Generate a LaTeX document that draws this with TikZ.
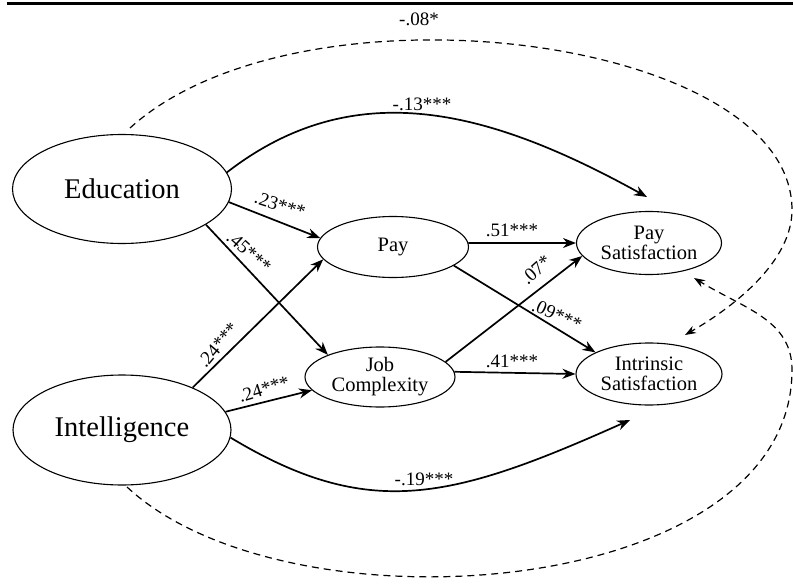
\documentclass[tikz,border=0pt]{standalone}
\usepackage{fontspec}
\setmainfont{Liberation Serif}
\usetikzlibrary{shapes.geometric,arrows.meta}
\begin{document}
\begin{tikzpicture}[x=1pt,y=-1pt,
  var/.style={draw,ellipse,line width=1.1pt,inner sep=0pt,align=center},
  bigvar/.style={var,font=\fontsize{28.5}{30}\selectfont},
  smallvar/.style={var,font=\fontsize{20.5}{20}\selectfont},
  effect/.style={line width=1.7pt,-{Stealth[length=13pt,width=10pt]}},
  corr/.style={line width=1.2pt,dash pattern=on 7pt off 5pt,-{Stealth[length=11pt,width=8pt]}},
  coef/.style={font=\fontsize{19}{20}\selectfont,inner sep=0pt}]
\useasboundingbox (0,0) rectangle (793,586);
\draw[line width=3pt] (7,3.5) -- (793,3.5);

\node[bigvar,minimum width=219pt,minimum height=109pt] (edu) at (122,189) {Education};
\node[bigvar,minimum width=218pt,minimum height=110pt] (int) at (122,430) {Intelligence};
\node[smallvar,minimum width=151pt,minimum height=61pt] (pay) at (393,247) {Pay};
\node[smallvar,minimum width=150pt,minimum height=60pt] (job) at (380,377) {Job\\Complexity};
\node[smallvar,minimum width=145pt,minimum height=63pt] (ps) at (649,243) {Pay\\Satisfaction};
\node[smallvar,minimum width=146pt,minimum height=62pt] (is) at (649,374) {Intrinsic\\Satisfaction};

\coordinate (pstop) at (647,197);
\coordinate (isbot) at (630,420);
\coordinate (edutop) at (130,128);
\coordinate (intbot) at (127,487);
\coordinate (isne) at (685,335);
\coordinate (psse) at (694,278);
\coordinate (r1) at (792,210);
\coordinate (r2) at (792,370);

% straight paths
\draw[effect] (edu.-7) -- (pay.173);
\draw[effect] (edu.-23) -- (job.157);
\draw[effect] (int.31) -- (pay.190);
\draw[effect] (int.10) -- (job.191);
\draw[effect] (pay.3) -- (ps.west);
\draw[effect] (pay.-17) -- (is.158);
\draw[effect] (job.13) -- (ps.191);
\draw[effect] (job.4) -- (is.west);

% curved direct paths
\draw[effect] (edu.9) .. controls (354,74) and (488,109) .. (pstop);
\draw[effect] (int.-4) .. controls (369,521) and (451,500) .. (isbot);

% dashed paths
\draw[corr] (edutop) .. controls (300,-26) and (792,35) .. (r1) .. controls (792,260) and (737,305) .. (isne);
\draw[corr] (intbot) .. controls (288,637) and (792,600) .. (r2) .. controls (792,320) and (745,309) .. (psse);

% coefficients
\node[coef,rotate=-18] (l1) at (280,205) {.23***};
\node[coef,rotate=-42] (l2) at (249,252) {.45***};
\node[coef,rotate=50] (l3) at (218,345) {.24***};
\node[coef,rotate=17] (l4) at (264,389) {.24***};
\node[coef] (l5) at (512,230) {.51***};
\node[coef,rotate=42] (l6) at (536,270) {.07*};
\node[coef,rotate=-24] (l7) at (557,315) {.09***};
\node[coef] (l8) at (512,361) {.41***};
\node[coef] (l9) at (422,104) {-.13***};
\node[coef] (l10) at (424,479) {-.19***};
\node[coef] (l11) at (419,19) {-.08*};
\end{tikzpicture}
\end{document}
